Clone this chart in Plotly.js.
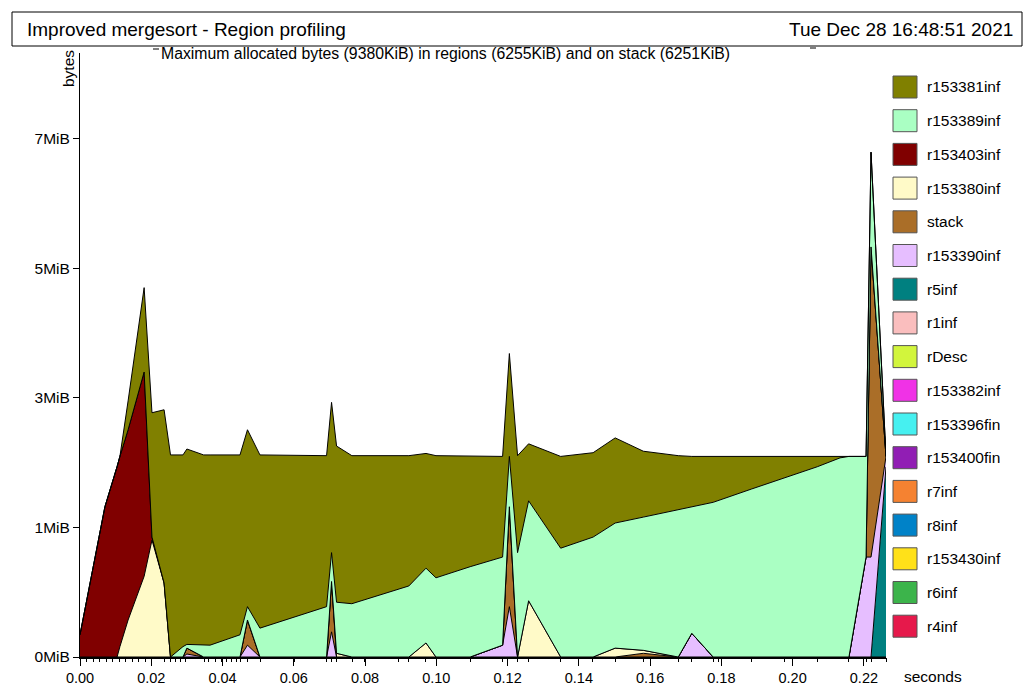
<!DOCTYPE html>
<html><head><meta charset="utf-8">
<script src="https://cdn.plot.ly/plotly-3.0.1.min.js"></script>
<style>html,body{margin:0;padding:0;background:#fff;}#chart{width:1028px;height:688px;}</style>
</head><body><div id="chart"></div>
<script>
// sample times (seconds)
const times = [0, 0.0070, 0.0104, 0.0112, 0.0135, 0.0180, 0.0202, 0.0236, 0.0254, 0.0289, 0.0300, 0.0347, 0.0365, 0.0449, 0.0470, 0.0505, 0.0692, 0.0706, 0.0720, 0.0763, 0.0923, 0.0971, 0.0999, 0.1095, 0.1186, 0.1205, 0.1228, 0.1259, 0.1349, 0.1440, 0.1502, 0.1581, 0.1679, 0.1717, 0.1777, 0.1885, 0.1977, 0.2069, 0.2133, 0.2158, 0.2206, 0.2220, 0.2262];
// values in MiB
const r153381inf = [0, 0, 0, 0, 0.39, 1.14, 1.68, 2.34, 2.73, 2.59, 2.64, 2.57, 2.57, 2.43, 2.39, 2.34, 2.04, 2.03, 2.11, 2.00, 1.76, 1.55, 1.65, 1.50, 1.36, 1.39, 1.31, 0.77, 1.24, 1.14, 1.15, 0.89, 0.73, 0.69, 0.62, 0.45, 0.30, 0.15, 0.03, 0, 0, 0, 0];
const r153389inf = [0, 0, 0, 0, 0, 0, 0, 0, 0, 0.14, 0.05, 0.16, 0.16, 0.30, 0.18, 0.39, 0.68, 0.39, 0.69, 0.72, 0.96, 1.01, 1.07, 1.22, 1.19, 0.68, 1.41, 1.35, 1.47, 1.62, 1.69, 1.80, 1.99, 1.70, 2.09, 2.27, 2.42, 2.57, 2.69, 2.71, 1.36, 1.28, 0];
const r153403inf = [0.30, 2.03, 2.57, 2.57, 2.57, 2.76, 0.04, 0, 0, 0, 0, 0, 0, 0, 0, 0, 0, 0, 0, 0, 0, 0, 0, 0, 0, 0, 0, 0, 0, 0, 0, 0, 0, 0, 0, 0, 0, 0, 0, 0, 0, 0, 0];
const r153380inf = [0, 0, 0, 0.14, 0.50, 1.09, 1.58, 1.00, 0, 0, 0, 0, 0, 0, 0, 0, 0, 0, 0.05, 0, 0, 0.19, 0, 0, 0, 0, 0, 0.76, 0, 0, 0.12, 0.04, 0, 0, 0, 0, 0, 0, 0, 0, 0, 0, 0];
const stack = [0, 0, 0, 0, 0, 0, 0, 0, 0, 0, 0.08, 0, 0, 0, 0.34, 0, 0, 0.68, 0, 0, 0, 0, 0, 0, 0, 1.35, 0, 0, 0, 0, 0, 0.05, 0, 0, 0, 0, 0, 0, 0, 0, 0, 4.19, 0];
const r153390inf = [0, 0, 0, 0, 0, 0, 0, 0, 0, 0, 0.04, 0, 0, 0, 0.16, 0, 0, 0.34, 0, 0, 0, 0, 0, 0, 0.16, 0.68, 0, 0, 0, 0, 0, 0, 0, 0.32, 0, 0, 0, 0, 0, 0, 1.35, 1.35, 0.14];
const r5inf = [0, 0, 0, 0, 0, 0, 0, 0, 0, 0, 0, 0, 0, 0, 0, 0, 0, 0, 0, 0, 0, 0, 0, 0, 0, 0, 0, 0, 0, 0, 0, 0, 0, 0, 0, 0, 0, 0, 0, 0, 0, 0, 2.57];
const r1inf = [0, 0, 0, 0, 0, 0, 0, 0, 0, 0, 0, 0, 0, 0, 0, 0, 0, 0, 0, 0, 0, 0, 0, 0, 0, 0, 0, 0, 0, 0, 0, 0, 0, 0, 0, 0, 0, 0, 0, 0, 0, 0, 0];
const rDesc = [0, 0, 0, 0, 0, 0, 0, 0, 0, 0, 0, 0, 0, 0, 0, 0, 0, 0, 0, 0, 0, 0, 0, 0, 0, 0, 0, 0, 0, 0, 0, 0, 0, 0, 0, 0, 0, 0, 0, 0, 0, 0, 0];
const r153382inf = [0, 0, 0, 0, 0, 0, 0, 0, 0, 0, 0, 0, 0, 0, 0, 0, 0, 0, 0, 0, 0, 0, 0, 0, 0, 0, 0, 0, 0, 0, 0, 0, 0, 0, 0, 0, 0, 0, 0, 0, 0, 0, 0];
const r153396fin = [0, 0, 0, 0, 0, 0, 0, 0, 0, 0, 0, 0, 0, 0, 0, 0, 0, 0, 0, 0, 0, 0, 0, 0, 0, 0, 0, 0, 0, 0, 0, 0, 0, 0, 0, 0, 0, 0, 0, 0, 0, 0, 0];
const r153400fin = [0, 0, 0, 0, 0, 0, 0, 0, 0, 0, 0, 0, 0, 0, 0, 0, 0, 0, 0, 0, 0, 0, 0, 0, 0, 0, 0, 0, 0, 0, 0, 0, 0, 0, 0, 0, 0, 0, 0, 0, 0, 0, 0];
const r7inf = [0, 0, 0, 0, 0, 0, 0, 0, 0, 0, 0, 0, 0, 0, 0, 0, 0, 0, 0, 0, 0, 0, 0, 0, 0, 0, 0, 0, 0, 0, 0, 0, 0, 0, 0, 0, 0, 0, 0, 0, 0, 0, 0];
const r8inf = [0, 0, 0, 0, 0, 0, 0, 0, 0, 0, 0, 0, 0, 0, 0, 0, 0, 0, 0, 0, 0, 0, 0, 0, 0, 0, 0, 0, 0, 0, 0, 0, 0, 0, 0, 0, 0, 0, 0, 0, 0, 0, 0];
const r153430inf = [0, 0, 0, 0, 0, 0, 0, 0, 0, 0, 0, 0, 0, 0, 0, 0, 0, 0, 0, 0, 0, 0, 0, 0, 0, 0, 0, 0, 0, 0, 0, 0, 0, 0, 0, 0, 0, 0, 0, 0, 0, 0, 0];
const r6inf = [0, 0, 0, 0, 0, 0, 0, 0, 0, 0, 0, 0, 0, 0, 0, 0, 0, 0, 0, 0, 0, 0, 0, 0, 0, 0, 0, 0, 0, 0, 0, 0, 0, 0, 0, 0, 0, 0, 0, 0, 0, 0, 0];
const r4inf = [0, 0, 0, 0, 0, 0, 0, 0, 0, 0, 0, 0, 0, 0, 0, 0, 0, 0, 0, 0, 0, 0, 0, 0, 0, 0, 0, 0, 0, 0, 0, 0, 0, 0, 0, 0, 0, 0, 0, 0, 0, 0, 0];

// legend order (top to bottom), top of stack first
const seriesNames = ["r153381inf","r153389inf","r153403inf","r153380inf","stack","r153390inf","r5inf","r1inf","rDesc","r153382inf","r153396fin","r153400fin","r7inf","r8inf","r153430inf","r6inf","r4inf"];
const seriesValues = [r153381inf,r153389inf,r153403inf,r153380inf,stack,r153390inf,r5inf,r1inf,rDesc,r153382inf,r153396fin,r153400fin,r7inf,r8inf,r153430inf,r6inf,r4inf];
const seriesColors = ["#808000","#aaffc3","#800000","#fffac8","#aa6e28","#e6beff","#008080","#fabebe","#d2f53c","#f032e6","#46f0f0","#911eb4","#f58231","#0082c8","#ffe119","#3cb44b","#e6194b"];

// sample marks along the time axis
const sampleTicks = [0, 0.0018, 0.0037, 0.0055, 0.0073, 0.0091, 0.0110, 0.0128, 0.0146, 0.0164, 0.0183, 0.0202, 0.0238, 0.0253, 0.0267, 0.0281, 0.0295, 0.0349, 0.0362, 0.0379, 0.0398, 0.0412, 0.0426, 0.0438, 0.0451, 0.0471, 0.0507, 0.0601, 0.0692, 0.0706, 0.0721, 0.0764, 0.0798, 0.0895, 0.0923, 0.0970, 0.1095, 0.1186, 0.1228, 0.1259, 0.1349, 0.1439, 0.1502, 0.1581, 0.1679, 0.1717, 0.1777, 0.1791, 0.1885, 0.1977, 0.2069, 0.2158, 0.2206, 0.2220, 0.2262];
const majorTicks = [0, 0.02, 0.04, 0.06, 0.08, 0.10, 0.12, 0.14, 0.16, 0.18, 0.20, 0.22];
const yTickVals = [0, 1.75, 3.5, 5.25, 7];
const yTickText = ["0MiB","1MiB","3MiB","5MiB","7MiB"];

const titleText = "Improved mergesort - Region profiling";
const dateText = "Tue Dec 28 16:48:51 2021";
const subText = "Maximum allocated bytes (9380KiB) in regions (6255KiB) and on stack (6251KiB)";

// pixel geometry
const W = 1028, H = 688, L = 80, R = 886, T = 53, B = 657;
const px = x => (x - L) / (R - L);
const py = y => (B - y) / (B - T);
const FONT = "Liberation Sans, Arial, sans-serif";

const traces = [];
for (let i = seriesNames.length - 1; i >= 0; i--) {
  traces.push({
    type: "scatter", mode: "lines", x: times, y: seriesValues[i], name: seriesNames[i],
    stackgroup: "one", fill: "tonexty", fillcolor: seriesColors[i],
    line: {color: "#000", width: 1, shape: "linear"}, hoverinfo: "skip", showlegend: false
  });
}
traces.push({type: "scatter", mode: "markers", x: sampleTicks, y: sampleTicks.map(() => 0), xaxis: "x2", yaxis: "y",
  marker: {opacity: 0, size: 1}, hoverinfo: "skip", showlegend: false});

const shapes = [];
const annotations = [];
// title box
shapes.push({type: "rect", xref: "paper", yref: "paper", x0: px(12), x1: px(1022), y0: py(12), y1: py(46), line: {color: "#000", width: 1}});
annotations.push({xref: "paper", yref: "paper", x: px(25), y: py(29), xanchor: "left", yanchor: "middle", text: titleText, showarrow: false, font: {family: FONT, size: 19, color: "#000"}});
annotations.push({xref: "paper", yref: "paper", x: px(1015), y: py(29), xanchor: "right", yanchor: "middle", text: dateText, showarrow: false, font: {family: FONT, size: 19, color: "#000"}});
annotations.push({xref: "paper", yref: "paper", x: px(159), y: py(54), xanchor: "left", yanchor: "middle", text: subText, showarrow: false, font: {family: FONT, size: 15.8, color: "#000"}});
shapes.push({type: "line", xref: "paper", yref: "paper", x0: px(153), x1: px(159), y0: py(49), y1: py(49), line: {color: "#000", width: 1}});
shapes.push({type: "line", xref: "paper", yref: "paper", x0: px(810), x1: px(816), y0: py(48), y1: py(48), line: {color: "#000", width: 1}});
annotations.push({xref: "paper", yref: "paper", x: px(68), y: py(69), xanchor: "center", yanchor: "middle", text: "bytes", textangle: -90, showarrow: false, font: {family: FONT, size: 15.5, color: "#000"}});
annotations.push({xref: "paper", yref: "paper", x: px(933), y: py(676), xanchor: "center", yanchor: "middle", text: "seconds", showarrow: false, font: {family: FONT, size: 15.5, color: "#000"}});
// legend
for (let i = 0; i < seriesNames.length; i++) {
  const cy = 87 + i * 33.7;
  shapes.push({type: "rect", xref: "paper", yref: "paper", x0: px(893), x1: px(917), y0: py(cy - 11), y1: py(cy + 11), fillcolor: seriesColors[i], line: {color: "#555", width: 1}});
  annotations.push({xref: "paper", yref: "paper", x: px(925), y: py(cy), xanchor: "left", yanchor: "middle", text: seriesNames[i], showarrow: false, font: {family: FONT, size: 15.5, color: "#000"}});
}

const layout = {
  width: W, height: H, margin: {l: L, r: W - R, t: T, b: H - B, pad: 0},
  paper_bgcolor: "#fff", plot_bgcolor: "#fff", showlegend: false,
  font: {family: FONT, size: 14, color: "#000"},
  xaxis: {range: [0, 0.2262], tickvals: majorTicks, tickformat: ".2f", ticks: "outside", ticklen: 7, tickwidth: 1, tickcolor: "#000",
    showline: true, linecolor: "#000", linewidth: 2, showgrid: false, zeroline: false, tickfont: {family: FONT, size: 14.5, color: "#000"}},
  xaxis2: {overlaying: "x", matches: "x", anchor: "y", side: "bottom", tickvals: sampleTicks, ticks: "outside", ticklen: 4, tickwidth: 1, tickcolor: "#000",
    showticklabels: false, showline: false, showgrid: false, zeroline: false},
  yaxis: {range: [0, 8.16], tickvals: yTickVals, ticktext: yTickText, ticks: "outside", ticklen: 6, tickwidth: 1, tickcolor: "#000",
    showline: true, linecolor: "#000", linewidth: 1, showgrid: false, zeroline: false, tickfont: {family: FONT, size: 15.5, color: "#000"}},
  shapes: shapes, annotations: annotations
};
Plotly.newPlot("chart", traces, layout, {staticPlot: true, displayModeBar: false});
</script></body></html>
